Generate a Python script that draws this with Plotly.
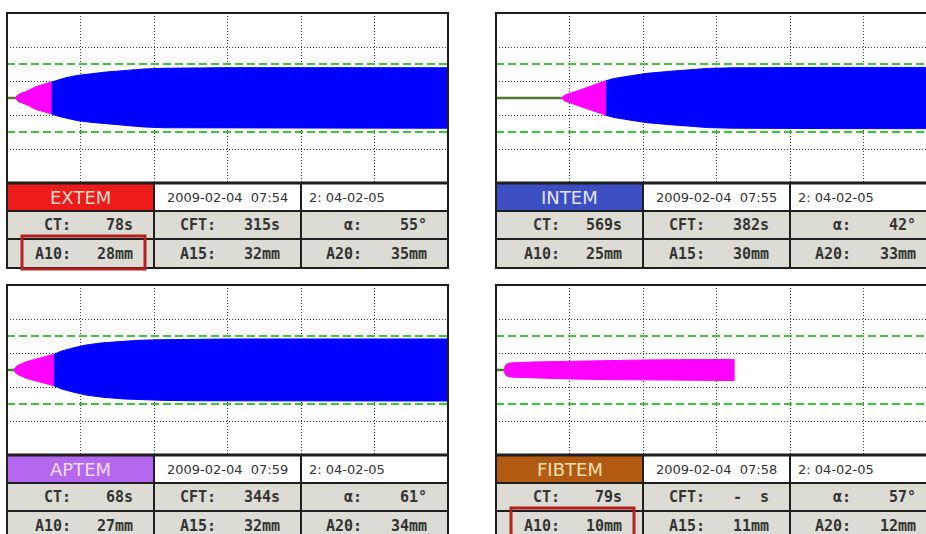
import plotly.graph_objects as go

W, H = 926, 534

# ---------------- data ----------------
tests = ["EXTEM", "INTEM", "APTEM", "FIBTEM"]
dates = ["2009-02-04&nbsp; 07:54", "2009-02-04&nbsp; 07:55", "2009-02-04&nbsp; 07:59", "2009-02-04&nbsp; 07:58"]
sample_ids = ["2: 04-02-05", "2: 04-02-05", "2: 04-02-05", "2: 04-02-05"]
ct_vals = ["78s", "569s", "68s", "79s"]
cft_vals = ["315s", "382s", "344s", "-&nbsp; s"]
alpha_vals = ["55°", "42°", "61°", "57°"]
a10_vals = ["28mm", "25mm", "27mm", "10mm"]
a15_vals = ["32mm", "30mm", "32mm", "11mm"]
a20_vals = ["35mm", "33mm", "34mm", "12mm"]
highlight_a10 = [True, False, False, True]

# clotting time on the trace (minutes)
ct_min = [1.09, 8.84, 0.82, 1.09]

# amplitude envelopes (time in min, amplitude in mm), pink = CFT phase, blue = after
extem_pink_t = [1.09, 1.6, 2.68, 4.04, 6.08]
extem_pink_amp = [0, 4.5, 7.9, 13.8, 18.8]
extem_blue_t = [6.08, 7, 8, 9.5, 11.3, 13.5, 16.3, 18.5, 21.3, 25, 30, 40, 50, 60]
extem_blue_amp = [18.8, 21.5, 23.8, 26.5, 28.5, 30.6, 32.5, 34, 35, 35.5, 35.7, 35.7, 35.6, 35.6]

intem_pink_t = [8.84, 9.5, 10.9, 12.5, 14.97]
intem_pink_amp = [0, 4, 7.8, 13, 20.3]
intem_blue_t = [14.97, 16, 17.5, 18.8, 20.5, 23.8, 26, 28.8, 32, 36, 45, 60]
intem_blue_amp = [20.3, 22.8, 25, 27, 29, 31.5, 33.2, 34.8, 35.5, 35.9, 36, 36]

aptem_pink_t = [0.82, 1.5, 2.7, 4.3, 6.4]
aptem_pink_amp = [0, 5.5, 10, 14, 18.6]
aptem_blue_t = [6.4, 7.5, 9, 10.8, 13, 15.8, 18, 20.8, 25, 30, 40, 60]
aptem_blue_amp = [18.6, 22.5, 26, 29.5, 32, 34, 35, 35.6, 36.2, 36.5, 36.5, 36.5]

fibtem_pink_t = [1.09, 1.25, 1.6, 2.3, 5, 10, 15, 20, 25, 32.4]
fibtem_pink_amp = [0, 5, 7.5, 8.5, 9.4, 10.5, 11.3, 11.8, 12.2, 12.4]
fibtem_blue_t = []
fibtem_blue_amp = []

pinks = [(extem_pink_t, extem_pink_amp), (intem_pink_t, intem_pink_amp),
         (aptem_pink_t, aptem_pink_amp), (fibtem_pink_t, fibtem_pink_amp)]
blues = [(extem_blue_t, extem_blue_amp), (intem_blue_t, intem_blue_amp),
         (aptem_blue_t, aptem_blue_amp), (fibtem_blue_t, fibtem_blue_amp)]

x_grid_min = [10, 20, 30, 40, 50]
y_grid_mm = [-30, -10, 10, 30]
ref_lines_mm = [-20, 20]

# ---------------- style / layout ----------------
title_colors = ["#ee1b1b", "#3b4ec2", "#b567ef", "#b35a12"]
title_text_colors = ["#fad8c8", "#e2e6ff", "#f3dcff", "#f8e2b2"]
PINK = "#ff00ff"
BLUE = "#0000ff"
BASE = "#4a7a2a"
GREEN = "#33cc33"
GRAY_CELL = "#dcdcd5"
FRAME = "#1e1e1e"
GRID = "#3c3c3c"

panel_x0 = [7, 496, 7, 496]
panel_y0 = [13, 13, 285, 285]
PW, PH = 441, 170
ROWS = [28, 28, 29]
COLW = 147
T_MAX = 60.0


def px(x):
    return x / W


def py(y):
    return 1 - y / H


fig = go.Figure()
shapes = []
annotations = []

for i in range(4):
    n = "" if i == 0 else str(i + 1)
    xa, ya = "x" + n, "y" + n
    x0, y0 = panel_x0[i], panel_y0[i]
    x1 = x0 + PW
    right = min(x1, W)
    tmax = T_MAX * (right - x0) / PW

    fig.layout["xaxis" + n] = dict(
        domain=[px(x0), px(right)], range=[0, tmax], anchor=ya,
        showticklabels=False, ticks="", tickvals=x_grid_min,
        showgrid=True, gridcolor=GRID, gridwidth=1, griddash="1px,2px",
        zeroline=False, showline=False, fixedrange=True)
    fig.layout["yaxis" + n] = dict(
        domain=[py(y0 + PH), py(y0)], range=[-50, 50], anchor=xa,
        showticklabels=False, ticks="", tickvals=y_grid_mm,
        showgrid=True, gridcolor=GRID, gridwidth=1, griddash="1px,2px",
        zeroline=False, showline=False, fixedrange=True)

    # reference lines at +-20 mm (green dashed)
    for r in ref_lines_mm:
        fig.add_trace(go.Scatter(x=[0, tmax], y=[r, r], mode="lines",
                                 line=dict(color=GREEN, width=2, dash="8px,4px"),
                                 xaxis=xa, yaxis=ya, hoverinfo="skip"))

    # baseline before clot formation
    fig.add_trace(go.Scatter(x=[0, ct_min[i]], y=[0, 0], mode="lines",
                             line=dict(color=BASE, width=2.5), xaxis=xa, yaxis=ya,
                             hoverinfo="skip"))
    for (tt, aa), col in ((pinks[i], PINK), (blues[i], BLUE)):
        if not tt:
            continue
        xs = list(tt) + list(tt[::-1])
        ys = [a / 2 for a in aa] + [-a / 2 for a in aa[::-1]]
        fig.add_trace(go.Scatter(x=xs, y=ys, mode="lines", fill="toself",
                                 fillcolor=col, line=dict(color=col, width=1),
                                 xaxis=xa, yaxis=ya, hoverinfo="skip"))

    # plot frame
    shapes.append(dict(type="rect", xref="paper", yref="paper",
                       x0=px(x0), x1=px(x1), y0=py(y0 + PH), y1=py(y0),
                       line=dict(color=FRAME, width=2), layer="above"))

    # table
    row_tops = [y0 + PH, y0 + PH + ROWS[0], y0 + PH + ROWS[0] + ROWS[1]]
    row_bots = [row_tops[k] + ROWS[k] for k in range(3)]
    col_l = [x0 + COLW * c for c in range(3)]
    col_r = [x0 + COLW * (c + 1) for c in range(3)]
    for r in range(3):
        for c in range(3):
            if r == 0:
                fill = title_colors[i] if c == 0 else "white"
            else:
                fill = GRAY_CELL
            shapes.append(dict(type="rect", xref="paper", yref="paper",
                               x0=px(col_l[c]), x1=px(col_r[c]),
                               y0=py(row_bots[r]), y1=py(row_tops[r]),
                               fillcolor=fill, line=dict(color=FRAME, width=2),
                               layer="above"))
    # thicker top line of the table
    shapes.append(dict(type="line", xref="paper", yref="paper",
                       x0=px(x0), x1=px(x1), y0=py(row_tops[0]), y1=py(row_tops[0]),
                       line=dict(color=FRAME, width=3), layer="above"))

    ymid = [(row_tops[k] + row_bots[k]) / 2 for k in range(3)]
    annotations.append(dict(text=tests[i], x=px((col_l[0] + col_r[0]) / 2), y=py(ymid[0]),
                            xref="paper", yref="paper", showarrow=False,
                            xanchor="center", yanchor="middle",
                            font=dict(family="DejaVu Sans", size=18, color=title_text_colors[i])))
    annotations.append(dict(text=dates[i], x=px((col_l[1] + col_r[1]) / 2), y=py(ymid[0]),
                            xref="paper", yref="paper", showarrow=False,
                            xanchor="center", yanchor="middle",
                            font=dict(family="DejaVu Sans", size=13, color="#333333")))
    annotations.append(dict(text=sample_ids[i], x=px(col_l[2] + 6), y=py(ymid[0]),
                            xref="paper", yref="paper", showarrow=False,
                            xanchor="left", yanchor="middle",
                            font=dict(family="DejaVu Sans", size=13, color="#333333")))

    cells = [[("CT:", ct_vals[i]), ("CFT:", cft_vals[i]), ("α:", alpha_vals[i])],
             [("A10:", a10_vals[i]), ("A15:", a15_vals[i]), ("A20:", a20_vals[i])]]
    label_off = [66, 64, 63]
    for r in range(2):
        for c in range(3):
            lab, val = cells[r][c]
            f = dict(family="DejaVu Sans Mono", size=15, color="#333333", weight="bold")
            annotations.append(dict(text=lab, x=px(col_l[c] + label_off[c]), y=py(ymid[r + 1]),
                                    xref="paper", yref="paper", showarrow=False,
                                    xanchor="right", yanchor="middle", font=f))
            annotations.append(dict(text=val, x=px(col_r[c] - 19), y=py(ymid[r + 1]),
                                    xref="paper", yref="paper", showarrow=False,
                                    xanchor="right", yanchor="middle", font=f))

    if highlight_a10[i]:
        shapes.append(dict(type="rect", xref="paper", yref="paper",
                           x0=px(col_l[0] + 15), x1=px(col_l[0] + 138),
                           y0=py(row_tops[2] + 30), y1=py(row_tops[2] - 3),
                           line=dict(color="#b3201f", width=3), layer="above"))

fig.update_layout(width=W, height=H, margin=dict(l=0, r=0, t=0, b=0),
                  paper_bgcolor="white", plot_bgcolor="white", showlegend=False,
                  shapes=shapes, annotations=annotations)

fig.write_html("out.html")
